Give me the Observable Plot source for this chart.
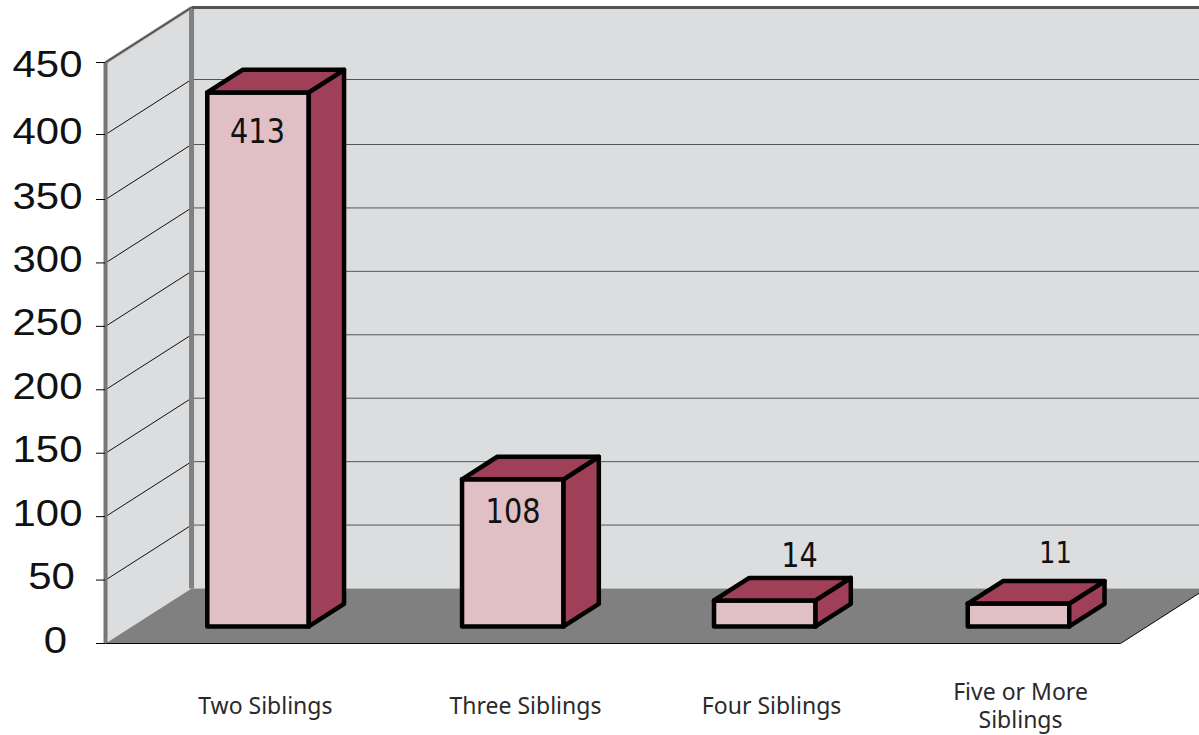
<!DOCTYPE html>
<html><head><meta charset="utf-8">
<style>html,body{margin:0;padding:0;background:#fff;overflow:hidden}svg{display:block}</style>
<script src="https://cdn.jsdelivr.net/npm/d3@7"></script>
<script src="https://cdn.jsdelivr.net/npm/@observablehq/plot@0.6"></script>
</head><body><div id="chart"></div>
<script>
// Data
const categories = ["Two Siblings", "Three Siblings", "Four Siblings", "Five or More\nSiblings"];
const valueLabels = [413, 108, 14, 11];
const barHeights = [417.4, 116, 20.5, 18];
const yTicks = [0, 50, 100, 150, 200, 250, 300, 350, 400, 450];

// Scale and oblique projection
const yDomain = [0, 350, 400, 450], yRange = [643, 199, 134, 62];
const yHelper = d3.scaleLinear(yDomain, yRange);
const depthX = 0.339;      // category units per full depth
const depthRise = 55;      // rise of full depth on the y scale
const px = (u, d) => u + d * depthX;
const py = (v, d) => yHelper.invert(yHelper(v) - depthRise * d);
const P = (u, v, d) => ({x: px(u, d), y: py(v, d)});
const poly = (pts, k) => [...pts, pts[0]].map(p => ({...p, k}));

const wallEnd = 4.2, yTop = 450;
const leftWall = poly([P(0,0,0), P(0,yTop,0), P(0,yTop,1), P(0,0,1)], "l");
const backWall = poly([P(0,0,1), P(0,yTop,1), P(wallEnd,yTop,1), P(wallEnd,0,1)], "b");
const floor = poly([P(0,0,0), P(4,0,0), P(4,0,1), P(0,0,1)], "f");
const gridVals = yTicks.filter(v => v > 0 && v < 450);

const barW = 0.4, d0 = 0.31, d1 = 0.72;
const barShift = [-0.004, 0, -0.007, -0.007];
const fronts = [], sides = [], tops = [];
barHeights.forEach((h, i) => {
  const c = i + 0.5 + barShift[i];
  const a = c - barW / 2, b = c + barW / 2;
  fronts.push(...poly([P(a,0,d0), P(a,h,d0), P(b,h,d0), P(b,0,d0)], i));
  sides.push(...poly([P(b,0,d0), P(b,h,d0), P(b,h,d1), P(b,0,d1)], i));
  tops.push(...poly([P(a,h,d0), P(a,h,d1), P(b,h,d1), P(b,h,d0)], i));
});

// Label placement on the chart's own scales
const valuePlace = [[0.599, 401.4], [1.606, 103.7], [2.735, 68.6], [3.744, 70.9]];
const valueFont = [33, 33, 33, 30];
const catPlace = [0.63, 1.655, 2.625, 3.606];
const catY = -48.5;
const tickWidth = 23.3, digitWidth = 18.3;

const seg = (u1, v1, d1, u2, v2, d2) => ({x1: px(u1,d1), y1: py(v1,d1), x2: px(u2,d2), y2: py(v2,d2)});
const faceOpts = (fill, sw) => ({x:"x", y:"y", z:"k", fill, stroke: sw ? "#000" : "none", strokeWidth: sw, strokeLinejoin:"round", strokeLinecap:"round"});
const link = (rows, stroke, strokeWidth) => Plot.link(rows, {x1:"x1", y1:"y1", x2:"x2", y2:"y2", stroke, strokeWidth, curve:"linear"});

const chart = Plot.plot({
  width: 1199, height: 735,
  marginLeft: 105, marginRight: 79, marginTop: 62, marginBottom: 92,
  x: {domain: [0, 4], axis: null},
  y: {type: "linear", domain: yDomain, range: yRange, axis: null},
  style: {background: "#fff", overflow: "hidden"},
  marks: [
    Plot.line(leftWall, faceOpts("#dcdddf", 0)),
    Plot.line(backWall, faceOpts("#dcdddf", 0)),
    Plot.line(floor, faceOpts("#808080", 0)),
    link(gridVals.map(v => seg(0,v,1,wallEnd,v,1)), "#555", 1),
    link(gridVals.map(v => seg(0,v,0,0,v,1)), "#111", 1),
    link([seg(0,0,1,0,yTop,1)], "#808080", 5),
    link([seg(0,yTop,1,wallEnd,yTop,1)], "#555", 3),
    link([seg(0,yTop,0,0,yTop,1)], "#8a8a8a", 3),
    link([seg(0,yTop,0,0,yTop,1)], "#333", 1),
    link([seg(0,0,0,0,yTop,0)], "#777", 4),
    link([seg(0,0,0,4,0,0), seg(4,0,0,4,0,1)], "#000", 1),
    Plot.axisY({ticks: yTicks, tickSize: 9, tickFormat: () => "", stroke: "#000", strokeWidth: 1}),
    Plot.text(yTicks.filter(v => v < 450), {x: () => 0, y: d => d, text: d => String(d), textAnchor: "middle", fontFamily: "Liberation Sans", fontSize: 36, fill: "#111", className: "ytl", dy: -2.5}),
    Plot.text(yTicks.filter(v => v === 450), {x: () => 0, y: d => d, text: d => String(d), textAnchor: "middle", fontFamily: "Liberation Sans", fontSize: 36, fill: "#111", className: "ytl", dy: 2.5}),
    Plot.line(fronts, faceOpts("#e0c0c4", 4.5)),
    Plot.line(sides, faceOpts("#a04058", 4.5)),
    Plot.line(tops, faceOpts("#a04058", 4.5)),
    Plot.text(valueLabels, {x: (d,i) => valuePlace[i][0], y: (d,i) => valuePlace[i][1], text: d => String(d), textAnchor: "middle", fontFamily: "DejaVu Sans", fontSize: (d,i) => valueFont[i], fill: "#111", className: "vl"}),
    Plot.text(categories, {x: (d,i) => catPlace[i], y: () => catY, text: d => d, textAnchor: "middle", lineAnchor: "middle", lineHeight: 1.22, fontFamily: "Noto Sans", fontSize: 23, fill: "#2a2a2a"})
  ]
});
document.getElementById("chart").append(chart);

// Wide axis numerals sit centred left of the ticks; tall, narrow value numerals
d3.select(chart).selectAll(".ytl text").each(function() {
  const s = d3.select(this), t = s.text();
  const cx = 47 + (3 - t.length) * 4;
  const m = /translate\(([-\d.]+),([-\d.]+)\)/.exec(s.attr("transform") || "");
  if (m) s.attr("transform", `translate(${cx},${m[2]})`);
  s.attr("textLength", t.length * tickWidth).attr("lengthAdjust", "spacingAndGlyphs");
});
d3.select(chart).selectAll(".vl text").each(function() {
  const s = d3.select(this), t = s.text();
  s.attr("textLength", t.length * digitWidth * (t === "11" ? 0.9 : 1)).attr("lengthAdjust", "spacingAndGlyphs");
});
</script></body></html>
